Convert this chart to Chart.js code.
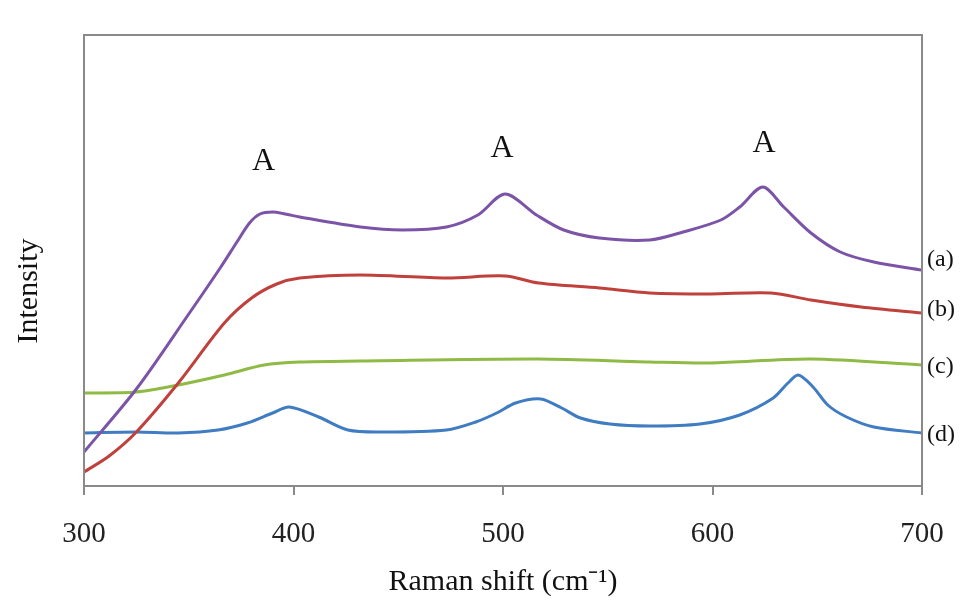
<!DOCTYPE html>
<html lang="en">

<head>
    <meta charset="UTF-8">
    <title>Raman spectra</title>
    <script src="https://cdn.jsdelivr.net/npm/chart.js"></script>
    <style>
        html, body { margin: 0; padding: 0; background: #ffffff; }
        .grafico { width: 963px; height: 603px; }
    </style>
</head>

<body>
    <div class="grafico">
        <canvas id="myCanvas"></canvas>
    </div>
</body>

</html>

<script>
    // spectra (Raman shift in cm-1, intensity in arbitrary units)
    const shiftA = [300, 325, 350, 365, 373, 379, 384, 390, 396, 403, 432, 452, 473, 488, 501, 516, 529, 546, 570, 586, 604, 613, 624, 634, 647, 661, 677, 700];
    const intensityA = [34, 97, 172, 218, 244, 263, 272, 274, 272, 269, 259, 256, 259, 271, 292, 271, 256, 248, 246, 254, 266, 279, 299, 279, 253, 234, 224, 216];

    const shiftB = [300, 312, 325, 345, 367, 380, 392, 403, 432, 473, 501, 517, 546, 570, 599, 628, 647, 671, 700];
    const intensityB = [14, 30, 54, 103, 163, 188, 202, 208, 211, 208, 210, 203, 198, 193, 192, 193, 186, 179, 173];

    const shiftC = [300, 325, 345, 367, 386, 403, 432, 517, 570, 599, 647, 700];
    const intensityC = [93, 94, 101, 111, 121, 124, 125, 127, 124, 123, 127, 121];

    const shiftD = [300, 325, 345, 364, 378, 390, 398, 412, 426, 442, 473, 487, 497, 506, 518, 528, 537, 551, 570, 594, 613, 629, 636, 641, 648, 655, 664, 677, 700];
    const intensityD = [53, 54, 53, 56, 63, 73, 79, 69, 56, 54, 56, 64, 73, 83, 87, 78, 68, 62, 60, 62, 71, 88, 103, 111, 99, 81, 69, 59, 53];

    const xTicks = [300, 400, 500, 600, 700];
    const seriesNames = ["(a)", "(b)", "(c)", "(d)"];
    const seriesColors = ["#7b54a8", "#c0403c", "#8fba45", "#3f7cc2"];

    // "A" marks above the peaks
    const peakMarkX = [385.7, 499.5, 624.6];
    const peakMarkY = [324, 337, 342];

    function pontos(xs, ys) {
        let lista = [];
        for (let i = 0; i < xs.length; i++) {
            lista.push({ x: xs[i], y: ys[i] });
        }
        return lista;
    }

    const todasSeries = [
        pontos(shiftA, intensityA),
        pontos(shiftB, intensityB),
        pontos(shiftC, intensityC),
        pontos(shiftD, intensityD)
    ];

    const serif = "'Liberation Serif', 'Times New Roman', serif";

    // moldura cinza + textos (Intensity, A, (a)...(d))
    const extras = {
        id: "extras",
        afterDraw(chart) {
            const ctx = chart.ctx;
            const area = chart.chartArea;
            const xs = chart.scales.x;
            const ys = chart.scales.y;
            ctx.save();
            ctx.strokeStyle = "#8a8a8a";
            ctx.lineWidth = 2;
            ctx.strokeRect(area.left, area.top, area.right - area.left, area.bottom - area.top);

            ctx.fillStyle = "#111111";
            ctx.textAlign = "center";
            ctx.textBaseline = "middle";

            ctx.save();
            ctx.translate(29, 291);
            ctx.rotate(-Math.PI / 2);
            ctx.font = "30px " + serif;
            ctx.fillText("Intensity", 0, 0);
            ctx.restore();

            ctx.font = "32px " + serif;
            for (let i = 0; i < peakMarkX.length; i++) {
                ctx.fillText("A", xs.getPixelForValue(peakMarkX[i]), ys.getPixelForValue(peakMarkY[i]));
            }

            ctx.textAlign = "left";
            ctx.font = "24px " + serif;
            const desvio = [-10, -3, 2, 2];
            for (let i = 0; i < todasSeries.length; i++) {
                const ultimo = todasSeries[i][todasSeries[i].length - 1];
                ctx.fillText(seriesNames[i], area.right + 5, ys.getPixelForValue(ultimo.y) + desvio[i]);
            }
            ctx.restore();
        }
    };

    const dados = {
        datasets: todasSeries.map(function (serie, i) {
            return {
                label: seriesNames[i],
                data: serie,
                borderColor: seriesColors[i],
                backgroundColor: seriesColors[i],
                borderWidth: 3,
                pointRadius: 0,
                fill: false,
                tension: 0.3
            };
        })
    };

    const config = {
        type: "line",
        data: dados,
        options: {
            responsive: false,
            animation: false,
            layout: {
                padding: { left: 0, right: 41, top: 35, bottom: 0 }
            },
            scales: {
                x: {
                    type: "linear",
                    min: 300,
                    max: 700,
                    afterBuildTicks: function (scale) {
                        scale.ticks = xTicks.map(function (v) { return { value: v }; });
                    },
                    afterFit: function (scale) {
                        scale.height = 117;
                        scale.paddingLeft = 0;
                        scale.paddingRight = 0;
                    },
                    grid: {
                        display: true,
                        drawOnChartArea: false,
                        drawTicks: true,
                        tickLength: 9,
                        color: "#8a8a8a",
                        lineWidth: 2
                    },
                    border: { display: true, color: "#8a8a8a", width: 2 },
                    ticks: {
                        color: "#222222",
                        padding: 22,
                        font: { family: serif, size: 29 }
                    },
                    title: {
                        display: true,
                        text: "Raman shift (cm⁻¹)",
                        color: "#111111",
                        font: { family: serif, size: 30 },
                        padding: { top: 0, bottom: 3 }
                    }
                },
                y: {
                    min: 0,
                    max: 451,
                    afterFit: function (scale) {
                        scale.width = 84;
                    },
                    grid: { display: false },
                    border: { display: true, color: "#8a8a8a", width: 2 },
                    ticks: { display: false }
                }
            },
            plugins: {
                legend: { display: false },
                tooltip: { enabled: false }
            }
        },
        plugins: [extras]
    };

    const canvas = document.getElementById("myCanvas");
    canvas.width = 963;
    canvas.height = 603;
    let myChart = new Chart(canvas, config);
</script>
